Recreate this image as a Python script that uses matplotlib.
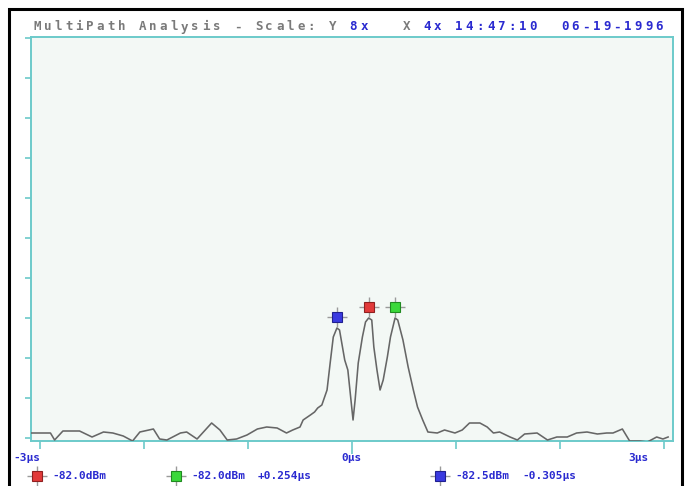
import numpy as np
import matplotlib
matplotlib.use("Agg")
import matplotlib.pyplot as plt
import matplotlib.transforms as mtransforms
from matplotlib.patches import Rectangle
from matplotlib.lines import Line2D

# impulse response trace: delay (us) vs level (dBm)
t_us = [-3.08, -2.90, -2.86, -2.78, -2.62, -2.50, -2.39, -2.30, -2.20, -2.11,
        -2.04, -1.91, -1.85, -1.78, -1.65, -1.59, -1.49, -1.35, -1.27, -1.20,
        -1.11, -1.01, -0.91, -0.82, -0.72, -0.63, -0.57, -0.50, -0.47, -0.40,
        -0.36, -0.33, -0.29, -0.24, -0.21, -0.18, -0.145, -0.12, -0.07, -0.04,
        0.00, 0.01, 0.03, 0.06, 0.10, 0.13, 0.16, 0.19, 0.21, 0.24,
        0.27, 0.30, 0.34, 0.37, 0.414, 0.44, 0.49, 0.54, 0.59, 0.63,
        0.68, 0.73, 0.82, 0.89, 0.99, 1.06, 1.13, 1.23, 1.30, 1.36,
        1.42, 1.52, 1.59, 1.66, 1.78, 1.88, 1.97, 2.07, 2.16, 2.26,
        2.36, 2.45, 2.51, 2.60, 2.67, 2.77, 2.84, 2.93, 2.99, 3.04]
level_dbm = [-87.75, -87.75, -88.10, -87.65, -87.65, -87.95, -87.70, -87.75, -87.90, -88.15,
             -87.70, -87.55, -88.05, -88.10, -87.75, -87.70, -88.05, -87.25, -87.60, -88.10,
             -88.05, -87.85, -87.55, -87.45, -87.50, -87.75, -87.60, -87.45, -87.10, -86.85,
             -86.70, -86.50, -86.35, -85.60, -84.25, -82.95, -82.50, -82.60, -84.10, -84.60,
             -86.60, -87.10, -86.10, -84.25, -82.95, -82.20, -82.00, -82.10, -83.45, -84.60,
             -85.60, -85.10, -83.95, -82.95, -82.00, -82.10, -83.10, -84.45, -85.60, -86.45,
             -87.10, -87.70, -87.75, -87.60, -87.75, -87.60, -87.25, -87.25, -87.45, -87.75,
             -87.70, -87.95, -88.10, -87.80, -87.75, -88.10, -87.95, -87.95, -87.75, -87.70,
             -87.80, -87.75, -87.75, -87.55, -88.15, -88.15, -88.20, -87.95, -88.05, -87.95]

# markers: reference (red), second (green), third (blue)
peak_t = [0.16, 0.414, -0.145]
peak_dbm = [-82.0, -82.0, -82.5]
peak_col = ["#e23a3a", "#3ad83a", "#3a3ae0"]
peak_edge = ["#902020", "#208a20", "#202090"]

W, H = 687, 486
fig = plt.figure(figsize=(W / 100, H / 100), dpi=100)
fig.patch.set_facecolor("white")

def px(x, y):
    return x / W, 1 - y / H

teal = "#6ccaca"
blue = "#2a2ad0"
grey = "#7a7a7a"

ax = fig.add_axes([31 / W, 45 / H, 642 / W, 404 / H])
ax.set_facecolor("#f3f8f5")
ax.plot(t_us, level_dbm, color="#666666", lw=1.15, zorder=3)
ax.set_xlim(-3.087, 3.087)
ax.set_ylim(-88.15, -67.95)
ax.set_xticks(np.arange(-3, 4, 1))
ax.set_yticks(np.arange(-88, -67, 2))
ax.set_xticklabels([])
ax.set_yticklabels([])
ax.tick_params(axis="both", direction="out", color=teal, width=1.2)
ax.tick_params(axis="x", length=6)
ax.tick_params(axis="y", length=4.5)
ax.xaxis.get_major_ticks()[3].tick1line.set_markersize(9)
for s in ax.spines.values():
    s.set_color(teal)
    s.set_linewidth(1.4)

# peak markers sit a little above each peak
lift = mtransforms.ScaledTranslation(0, 11 / 100, fig.dpi_scale_trans)
for t, d, c, e in zip(peak_t, peak_dbm, peak_col, peak_edge):
    ax.plot(t, d, marker="+", ms=15, mew=1.0, color="#9a9a9a",
            transform=ax.transData + lift, zorder=4, clip_on=False)
    ax.plot(t, d, marker="s", ms=6.5, mfc=c, mec=e, mew=0.8,
            transform=ax.transData + lift, zorder=5, clip_on=False)

# header drawn on a fixed character grid
def grid_text(x0, y, parts, pitch, size):
    i = 0
    for txt, col, wt in parts:
        for ch in txt:
            if ch != " ":
                fig.text(*px(x0 + pitch * i, y), ch, ha="center", va="center",
                         color=col, fontsize=size, fontweight=wt,
                         family="DejaVu Sans Mono")
            i += 1

grid_text(37, 27, [("MultiPath Analysis - Scale: Y ", grey, "bold"),
                   ("8x", blue, "bold"),
                   ("   X ", grey, "bold"),
                   ("4x 14:47:10  06-19-1996", blue, "bold")], 10.55, 9)

lab = dict(color=blue, fontsize=8, fontweight="bold", family="DejaVu Sans Mono",
           va="center")
fig.text(*px(13, 458), "-3\u00b5s", ha="left", **lab)
fig.text(*px(351, 458), "0\u00b5s", ha="center", **lab)
fig.text(*px(628, 458), "3\u00b5s", ha="left", **lab)

# marker readout line
dt = [peak_t[i] - peak_t[0] for i in range(3)]
readout = [(37, "%.1fdBm" % peak_dbm[0], None),
           (176, "%.1fdBm" % peak_dbm[1], "%+.3f\u00b5s" % dt[1]),
           (440, "%.1fdBm" % peak_dbm[2], "%+.3f\u00b5s" % dt[2])]
for k, (mx, lvl, off) in enumerate(readout):
    fig.add_artist(Line2D([mx / W], [1 - 476 / H], marker="+", ms=15, mew=1.0,
                          color="#9a9a9a", transform=fig.transFigure))
    fig.add_artist(Line2D([mx / W], [1 - 476 / H], marker="s", ms=6.5,
                          mfc=peak_col[k], mec=peak_edge[k], mew=0.8,
                          transform=fig.transFigure))
    fig.text(*px(mx + 15, 476), lvl, ha="left", **lab)
    if off:
        fig.text(*px(mx + 82, 476), off, ha="left", **lab)

# outer frame
fig.add_artist(Rectangle((9 / W, -10 / H), 673 / W, 487 / H, fill=False,
                         ec="black", lw=2.2, transform=fig.transFigure))

fig.savefig("out.png", dpi=100)
